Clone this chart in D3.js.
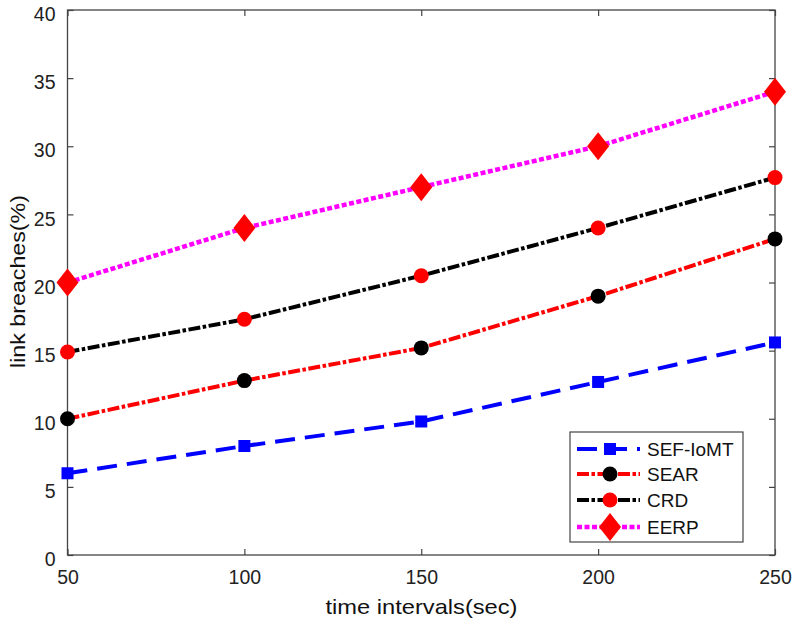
<!DOCTYPE html>
<html><head><meta charset="utf-8">
<script src="https://cdn.jsdelivr.net/npm/d3@7"></script>
<style>body{margin:0;background:#fff}svg{display:block}text{font-family:"Liberation Sans",Arial,sans-serif}</style>
</head><body>
<svg id="c" width="795" height="627"></svg>
<script>
const xValues = [50, 100, 150, 200, 250];
const sefIoMT = [6, 8, 9.8, 12.7, 15.6];
const sear = [10, 12.8, 15.2, 19, 23.2];
const crd = [14.9, 17.3, 20.5, 24, 27.7];
const eerp = [20, 24, 27, 30, 34];
const yTicks = [0, 5, 10, 15, 20, 25, 30, 35, 40];
const seriesNames = ["SEF-IoMT", "SEAR", "CRD", "EERP"];

const series = [
  {name: seriesNames[0], values: sefIoMT, line: "#0000ff", dash: "20,10", marker: "square", mfill: "#0000ff", width: 4},
  {name: seriesNames[1], values: sear, line: "#ff0000", dash: "12,2.5,3.5,2.5", marker: "circle", mfill: "#000000", width: 4},
  {name: seriesNames[2], values: crd, line: "#000000", dash: "12,2.5,3.5,2.5", marker: "circle", mfill: "#ff0000", width: 4},
  {name: seriesNames[3], values: eerp, line: "#ff00ff", dash: "5,2.5", marker: "diamond", mfill: "#ff0000", width: 4.5}
];

const svg = d3.select("#c");
const L = 67.5, R = 775, T = 10, B = 555;
const x = d3.scaleLinear().domain([50, 250]).range([L, R]);
const y = d3.scaleLinear().domain([0, 40]).range([B, T]);
const axisColor = "#444";

// frame
svg.append("rect").attr("x", L).attr("y", T).attr("width", R - L).attr("height", B - T)
  .attr("fill", "none").attr("stroke", axisColor).attr("stroke-width", 1.3);

// axes with inward ticks
const xa = svg.append("g").attr("transform", `translate(0,${B})`)
  .call(d3.axisBottom(x).tickValues(xValues).tickSize(-6).tickPadding(18).tickFormat(d3.format("d")));
const xt = svg.append("g").attr("transform", `translate(0,${T})`)
  .call(d3.axisTop(x).tickValues(xValues).tickSize(-6).tickFormat(""));
const ya = svg.append("g").attr("transform", `translate(${L},0)`)
  .call(d3.axisLeft(y).tickValues(yTicks).tickSize(-6).tickPadding(12).tickFormat(d3.format("d")));
const yr = svg.append("g").attr("transform", `translate(${R},0)`)
  .call(d3.axisRight(y).tickValues(yTicks).tickSize(-6).tickFormat(""));
[xa, xt, ya, yr].forEach(g => {
  g.select(".domain").remove();
  g.selectAll("line").attr("stroke", axisColor).attr("stroke-width", 1.2);
  g.selectAll("text").attr("fill", "#222").style("font-size", "19.5px").style("font-family", '"Liberation Sans",Arial,sans-serif');
});
ya.selectAll("text").attr("dy", "0.55em");
xa.selectAll("text").attr("dy", "0.55em");

// axis labels
svg.append("text").attr("x", 421.5).attr("y", 614).attr("text-anchor", "middle")
  .attr("textLength", 192).attr("lengthAdjust", "spacingAndGlyphs")
  .style("font-size", "21px").attr("fill", "#111").text("time intervals(sec)");
svg.append("text").attr("transform", `translate(25,281.5) rotate(-90)`).attr("text-anchor", "middle")
  .attr("textLength", 173).attr("lengthAdjust", "spacingAndGlyphs")
  .style("font-size", "21px").attr("fill", "#111").text("link breaches(%)");

function drawMarker(g, type, cx, cy, fill) {
  if (type === "square") {
    g.append("rect").attr("x", cx - 6).attr("y", cy - 6).attr("width", 12).attr("height", 12).attr("fill", fill);
  } else if (type === "circle") {
    g.append("circle").attr("cx", cx).attr("cy", cy).attr("r", 7.5).attr("fill", fill);
  } else {
    g.append("path").attr("d", `M${cx},${cy - 14}L${cx + 11},${cy}L${cx},${cy + 14}L${cx - 11},${cy}Z`).attr("fill", fill);
  }
}

const line = d3.line().x((d, i) => x(xValues[i])).y(d => y(d));
series.forEach(s => {
  const g = svg.append("g");
  g.append("path").attr("d", line(s.values)).attr("fill", "none").attr("stroke", s.line)
    .attr("stroke-width", s.width).attr("stroke-dasharray", s.dash);
  s.values.forEach((v, i) => drawMarker(g, s.marker, x(xValues[i]), y(v), s.mfill));
});

// legend
const lg = svg.append("g");
lg.append("rect").attr("x", 570).attr("y", 432).attr("width", 173).attr("height", 110)
  .attr("fill", "#fff").attr("stroke", axisColor).attr("stroke-width", 1.2);
const rowY = [449, 474, 500, 527];
series.forEach((s, i) => {
  const yy = rowY[i];
  lg.append("line").attr("x1", 577).attr("x2", 640).attr("y1", yy).attr("y2", yy)
    .attr("stroke", s.line).attr("stroke-width", s.width).attr("stroke-dasharray", s.dash);
  drawMarker(lg, s.marker, 610, yy, s.mfill);
  lg.append("text").attr("x", 647).attr("y", yy).attr("dy", "0.36em")
    .style("font-size", "19px").attr("fill", "#111").text(s.name);
});
</script>
</body></html>
